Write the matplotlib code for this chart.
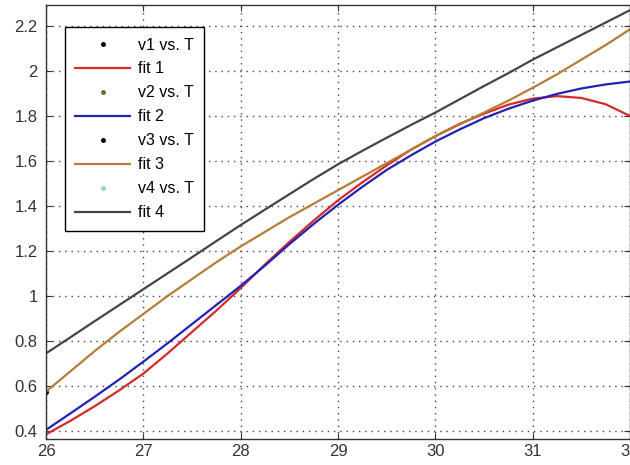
import matplotlib
matplotlib.use("Agg")
import matplotlib.pyplot as plt

plt.rcParams['font.family'] = ['Liberation Sans', 'DejaVu Sans']

T = [26, 26.25, 26.5, 26.75, 27, 27.25, 27.5, 27.75, 28, 28.25, 28.5, 28.75,
     29, 29.25, 29.5, 29.75, 30, 30.25, 30.5, 30.75, 31, 31.25, 31.5, 31.75, 32]
fit1 = [0.385, 0.445, 0.51, 0.58, 0.655, 0.745, 0.84, 0.935, 1.035, 1.14, 1.24, 1.335,
        1.425, 1.505, 1.58, 1.65, 1.71, 1.765, 1.81, 1.85, 1.877, 1.888, 1.88, 1.852, 1.80]
fit2 = [0.405, 0.478, 0.552, 0.628, 0.708, 0.79, 0.875, 0.96, 1.045, 1.135, 1.23, 1.32,
        1.405, 1.485, 1.56, 1.625, 1.686, 1.74, 1.79, 1.832, 1.868, 1.898, 1.922, 1.94, 1.953]
fit3 = [0.575, 0.665, 0.755, 0.84, 0.92, 1.0, 1.075, 1.15, 1.22, 1.285, 1.35, 1.41,
        1.47, 1.53, 1.59, 1.65, 1.71, 1.762, 1.815, 1.868, 1.925, 1.985, 2.05, 2.115, 2.185]
fit4 = [0.745, 0.816, 0.888, 0.959, 1.03, 1.101, 1.172, 1.244, 1.315, 1.384, 1.452, 1.52,
        1.585, 1.645, 1.703, 1.76, 1.815, 1.874, 1.933, 1.99, 2.05, 2.105, 2.16, 2.215, 2.27]

v1_T, v1 = [], []
v2_T, v2 = [], []
v3_T, v3 = [26], [0.575]
v4_T, v4 = [], []

xticks = [26, 27, 28, 29, 30, 31, 32]
yticks = [0.4, 0.6, 0.8, 1.0, 1.2, 1.4, 1.6, 1.8, 2.0, 2.2]
yticklabels = ['0.4', '0.6', '0.8', '1', '1.2', '1.4', '1.6', '1.8', '2', '2.2']

fig = plt.figure(figsize=(6.3, 4.65), dpi=100)
ax = fig.add_axes([46/630, 1 - 439/465, 584/630, 434/465])

c_red = '#d42a2a'
c_blue = '#2222b4'
c_orange = '#b57d35'
c_gray = '#454545'

ax.plot(v1_T, v1, '.', color='black', ms=5, label='v1 vs. T')
ax.plot(T, fit1, '-', color=c_red, lw=1.6, label='fit 1')
ax.plot(v2_T, v2, '.', color='#6e6a2a', ms=5, label='v2 vs. T')
ax.plot(T, fit2, '-', color=c_blue, lw=1.6, label='fit 2')
ax.plot(v3_T, v3, '.', color='black', ms=5, label='v3 vs. T')
ax.plot(T, fit3, '-', color=c_orange, lw=1.6, label='fit 3')
ax.plot(v4_T, v4, '.', color='#8fd3d3', ms=5, label='v4 vs. T')
ax.plot(T, fit4, '-', color=c_gray, lw=1.6, label='fit 4')

ax.set_xlim(26, 32)
ax.set_ylim(0.3644, 2.293)
ax.set_xticks(xticks)
ax.set_yticks(yticks)
ax.set_yticklabels(yticklabels)
ax.tick_params(direction='in', top=True, right=True, labelsize=12,
               colors='#333333', length=4)
ax.tick_params(axis='y', pad=6)
ax.grid(True, linestyle=(0, (1, 3.5)), color='#444444', linewidth=1.0)
for s in ax.spines.values():
    s.set_color('#333333')
    s.set_linewidth(1.0)

leg = ax.legend(loc='upper left', bbox_to_anchor=(0.0325, 0.949),
                borderaxespad=0, fancybox=False, edgecolor='black',
                framealpha=1, fontsize=11.5, labelspacing=0.56,
                handlelength=3.4, handletextpad=0.5, borderpad=0.65)
leg.get_frame().set_linewidth(1.0)

fig.savefig('out.png', dpi=100)
